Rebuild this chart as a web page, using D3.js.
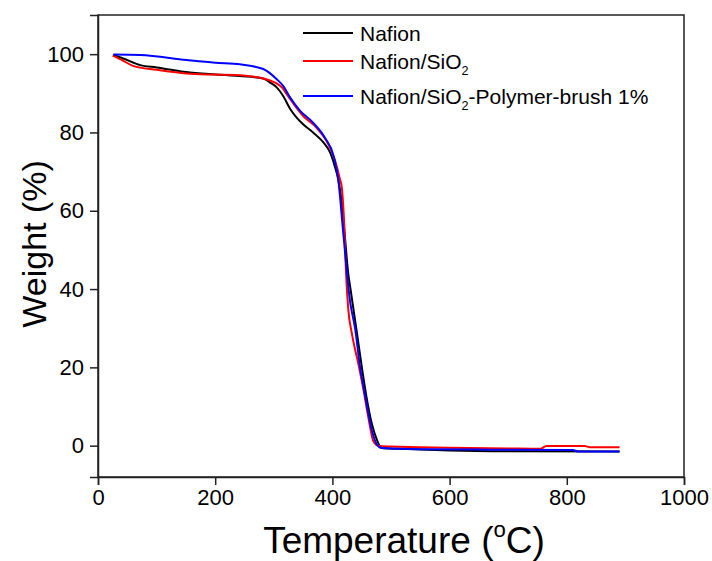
<!DOCTYPE html>
<html>
<head>
<meta charset="utf-8">
<script src="https://cdn.jsdelivr.net/npm/d3@7"></script>
<style>
    body {margin:0; background:#fff;}
    text {font-family:"Liberation Sans", Arial, sans-serif; fill:#000;}
</style>
</head>
<body>
<div id="chart"></div>
<script>
// temperature (degC) / weight (%)
const nafionT = [26,43,72,100,157,242,282,293,305,316,328,339,350,367,385,396,404,410,416,421,427,431,441,450,458,467,476,484,515,600,700,890];
const nafionW = [99.8,98.9,97.2,96.6,95.3,94.4,93.8,92.8,91.5,89.3,86,83.8,82.1,80,77.4,74.9,71.4,68,62,54,44,39.9,29.7,20.3,12.6,5.8,1.5,-0.6,-0.8,-1.2,-1.4,-1.5];
const sio2T = [25,43,60,100,157,242,282,314,322,350,373,393,404,413,416,421,423,427,433,444,453,461,470,478,500,600,700,755,765,830,840,890];
const sio2W = [99.6,98.3,97,96,95,94.6,93.8,91.5,89.8,84.2,81.2,77,73.1,68,66,53.5,45,35,28.8,21.1,14.3,7.5,1.1,0,-0.2,-0.5,-0.7,-0.8,-0.1,-0.1,-0.4,-0.4];
const brushT = [26,72,151,200,242,282,305,316,328,345,367,387,402,410,418,430,439,447,457,467,476,484,550,650,810,820,890];
const brushW = [99.9,99.8,98.5,97.8,97.4,96.2,93.6,91.9,88.9,85.5,82.5,78.7,74,68,55.2,37,29.7,20.3,11.8,4.1,0.3,-0.6,-0.9,-1.0,-1.1,-1.5,-1.5];

const seriesNames = ["Nafion", "Nafion/SiO2", "Nafion/SiO2-Polymer-brush 1%"];
const seriesColors = ["#000000", "#ff0000", "#0000ff"];
const xTicks = [0,200,400,600,800,1000];
const yTicks = [0,20,40,60,80,100];

const width = 712, height = 561;
const margin = {left:98, right:28, top:15, bottom:84};

let svg = d3.select("#chart").append("svg").attr("width",width).attr("height",height);

let x = d3.scaleLinear().domain([0,1000]).range([margin.left,width-margin.right]);
let y = d3.scaleLinear().domain([-8,110]).range([height-margin.bottom,margin.top]);

// frame
svg.append("rect").attr("x",x.range()[0]).attr("y",y.range()[1])
    .attr("width",x.range()[1]-x.range()[0]).attr("height",y.range()[0]-y.range()[1])
    .attr("fill","none").attr("stroke","#222").attr("stroke-width",1.5);

let xAxis = svg.append("g").attr("transform","translate(0,"+y.range()[0]+")")
    .call(d3.axisBottom(x).tickValues(xTicks).tickSize(8).tickPadding(4).tickFormat(d3.format("d")));
let yAxis = svg.append("g").attr("transform","translate("+x.range()[0]+",0)")
    .call(d3.axisLeft(y).tickValues(yTicks).tickSize(8).tickPadding(6).tickFormat(d3.format("d")));
for(let ax of [xAxis,yAxis]) {
    ax.select(".domain").attr("stroke","#222").attr("stroke-width",1.5);
    ax.selectAll(".tick line").attr("stroke","#222").attr("stroke-width",1.5);
    ax.selectAll(".tick text").attr("font-size",22).attr("font-family","Liberation Sans, Arial, sans-serif").attr("fill","#000");
}

let series = [
    {t:nafionT, w:nafionW},
    {t:sio2T, w:sio2W},
    {t:brushT, w:brushW}
];
let line = d3.line().x(d => x(d[0])).y(d => y(d[1])).curve(d3.curveMonotoneX);
series.forEach((s,i) => {
    let pts = s.t.map((t,k) => [t,s.w[k]]);
    svg.append("path").datum(pts).attr("d",line)
        .attr("fill","none").attr("stroke",seriesColors[i]).attr("stroke-width",2);
});

// text with "SiO2" subscript and "oC" superscript
function richText(g, str, size) {
    let t = g.append("text").attr("font-size",size);
    let parts = str.split(/(SiO2|\(oC\))/);
    let shift = 0;
    for(let p of parts) {
        if(p==="SiO2") {
            t.append("tspan").attr("dy",shift).text("SiO");
            t.append("tspan").attr("font-size",size*0.6).attr("dy",size*0.3).text("2");
            shift = -size*0.3;
        } else if(p==="(oC)") {
            t.append("tspan").attr("dy",shift).text("(");
            t.append("tspan").attr("font-size",size*0.6).attr("dy",-size*0.42).text("o");
            t.append("tspan").attr("dy",size*0.42).text("C)");
            shift = 0;
        } else if(p.length) {
            t.append("tspan").attr("dy",shift).text(p);
            shift = 0;
        }
    }
    return t;
}

// legend
let legendY = [33,61,96];
seriesNames.forEach((name,i) => {
    let g = svg.append("g");
    g.append("line").attr("x1",303).attr("x2",353).attr("y1",legendY[i]).attr("y2",legendY[i])
        .attr("stroke",seriesColors[i]).attr("stroke-width",2);
    richText(g,name,21).attr("x",360).attr("y",legendY[i]+8);
});

// axis titles
richText(svg,"Temperature (oC)",37).attr("x",404).attr("y",553).attr("text-anchor","middle");
richText(svg,"Weight (%)",34).attr("text-anchor","middle")
    .attr("transform","translate(46,"+(y(50)-6)+") rotate(-90)");
</script>
</body>
</html>
